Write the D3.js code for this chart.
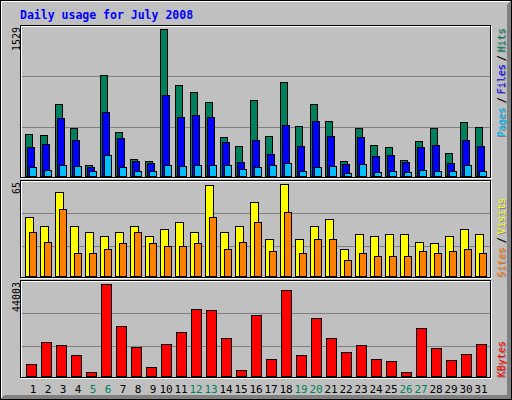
<!DOCTYPE html>
<html>
<head>
<meta charset="utf-8">
<script src="https://cdn.jsdelivr.net/npm/d3@7"></script>
<style>
  body { margin: 0; background: #fff; }
  svg { display: block; }
</style>
</head>
<body>
<div id="wrapper"></div>
<script>
// daily values for July 2008
const days = d3.range(1, 32)
const weekendDays = [5, 6, 12, 13, 19, 20, 26, 27]

const hits  = [440, 429, 751, 502, 111, 1052, 461, 180, 160, 1529, 948, 875, 772, 409, 315, 792,
               419, 979, 523, 751, 575, 160, 502, 326, 305, 170, 367, 502, 243, 564, 512]
const files = [305, 336, 606, 378, 90, 668, 398, 160, 139, 844, 616, 637, 616, 357, 149, 378,
               232, 533, 315, 575, 419, 129, 409, 212, 222, 149, 305, 326, 139, 378, 315]
const pages = [90, 66, 111, 101, 49, 215, 90, 49, 49, 118, 101, 118, 118, 118, 77, 98,
               118, 139, 56, 98, 108, 35, 129, 46, 56, 46, 66, 56, 56, 118, 56]

const visits = [42, 35, 59, 35, 31, 28, 31, 35, 28, 33, 38, 31, 64, 31, 35, 52,
                26, 65, 26, 35, 40, 19, 30, 28, 30, 30, 24, 23, 28, 33, 30]
const sites  = [31, 24, 47, 16, 16, 19, 23, 31, 23, 21, 21, 23, 42, 19, 24, 38,
                18, 45, 16, 26, 26, 11, 16, 14, 14, 14, 18, 16, 18, 19, 16]

const kbytes = [5823, 16324, 14892, 10119, 2005, 44003, 23960, 13937, 4391, 15369, 21097, 32075,
                31597, 18233, 2959, 29211, 8210, 41143, 10119, 27779, 18233, 11551, 14892, 8210,
                7255, 2005, 23006, 13460, 7732, 10596, 15369]

const title = "Daily usage for July 2008"

const colors = {
    grey: "#c0c0c0",
    dkgrey: "#808080",
    hits: "#00805c",
    files: "#0000ff",
    pages: "#00c0ff",
    visits: "#ffff00",
    sites: "#ff8000",
    kbytes: "#ff0000",
}

const width = 512
const height = 400
const mono = "'DejaVu Sans Mono', 'Liberation Mono', monospace"

const svg = d3.select("#wrapper")
    .html("")
    .append("svg")
    .attr("width", width)
    .attr("height", height)
    .attr("shape-rendering", "crispEdges")

// background + bevel
svg.append("rect")
    .attr("width", width).attr("height", height)
    .attr("fill", colors.grey)
for (let i = 1; i < 5; i++) {
    svg.append("line")
        .attr("x1", width - i - 0.5).attr("y1", i)
        .attr("x2", width - i - 0.5).attr("y2", height - i)
        .attr("stroke", colors.dkgrey)
    svg.append("line")
        .attr("x1", i).attr("y1", height - i - 0.5)
        .attr("x2", width - i).attr("y2", height - i - 0.5)
        .attr("stroke", colors.dkgrey)
}
svg.append("path")
    .attr("d", `M1.5,${height - 2}V1.5H${width - 2}`)
    .attr("fill", "none").attr("stroke", "#fff")
svg.append("rect")
    .attr("x", 0.5).attr("y", 0.5)
    .attr("width", width - 1).attr("height", height - 1)
    .attr("fill", "none").attr("stroke", "#000")

svg.append("text")
    .attr("x", 20).attr("y", 19)
    .text(title)
    .attr("fill", "#0000ff")
    .attr("font-family", mono)
    .attr("font-weight", "bold")
    .attr("font-size", "11.5px")

// panels
const panels = [
    { top: 25, bottom: 177, step: 51 },
    { top: 180, bottom: 277, step: 33 },
    { top: 280, bottom: 377, step: 33 },
]
panels.forEach(p => {
    svg.append("rect")
        .attr("x", 21.5).attr("y", p.top + 1.5)
        .attr("width", 470).attr("height", p.bottom - p.top)
        .attr("fill", "none").attr("stroke", "#fff")
    svg.append("rect")
        .attr("x", 20.5).attr("y", p.top + 0.5)
        .attr("width", 470).attr("height", p.bottom - p.top)
        .attr("fill", "none").attr("stroke", "#000")
    for (let k = 1; k < 3; k++) {
        svg.append("line")
            .attr("x1", 22).attr("x2", 490)
            .attr("y1", p.top + k * p.step + 0.5).attr("y2", p.top + k * p.step + 0.5)
            .attr("stroke", colors.dkgrey)
    }
})

// scales
const xScaler = d3.scaleLinear()
    .domain([1, 31])
    .range([25, 475])

const yTop = d3.scaleLinear().domain([0, d3.max(hits)]).range([176, 29])
const yMid = d3.scaleLinear().domain([0, d3.max(visits)]).range([276, 184])
const yBot = d3.scaleLinear().domain([0, d3.max(kbytes)]).range([376, 284])

function drawBars(values, yScale, offset, cols, color) {
    const base = yScale(0)
    svg.append("g")
        .selectAll("rect")
        .data(values)
        .enter()
        .append("rect")
        .attr("x", (d, i) => xScaler(days[i]) + offset + 0.5)
        .attr("y", d => Math.round(yScale(d)) + 0.5)
        .attr("width", cols - 1)
        .attr("height", d => base - Math.round(yScale(d)))
        .attr("fill", color)
        .attr("stroke", "#000")
}

drawBars(hits, yTop, 0, 8, colors.hits)
drawBars(files, yTop, 2, 8, colors.files)
drawBars(pages, yTop, 4, 8, colors.pages)
drawBars(visits, yMid, 0, 9, colors.visits)
drawBars(sites, yMid, 4, 8, colors.sites)
drawBars(kbytes, yBot, 1, 11, colors.kbytes)

// max labels on the left
const maxLabels = [
    { text: String(d3.max(hits)), top: 25 },
    { text: String(d3.max(visits)), top: 180 },
    { text: String(d3.max(kbytes)), top: 280 },
]
maxLabels.forEach(m => {
    svg.append("text")
        .attr("transform", `translate(19.5,${m.top + 2}) rotate(-90)`)
        .attr("text-anchor", "end")
        .text(m.text)
        .attr("fill", "#000")
        .attr("font-family", mono)
        .attr("font-size", "10px")
})

// legends on the right, drawn upward with a light shadow
const legends = [
    { text: "Hits", top: 28, color: colors.hits },
    { text: "/", top: 55, color: "#000" },
    { text: "Files", top: 64, color: colors.files },
    { text: "/", top: 97, color: "#000" },
    { text: "Pages", top: 107, color: colors.pages },
    { text: "Visits", top: 198, color: colors.visits },
    { text: "/", top: 237, color: "#000" },
    { text: "Sites", top: 247, color: colors.sites },
    { text: "KBytes", top: 341, color: colors.kbytes },
]
legends.forEach(l => {
    svg.append("text")
        .attr("transform", `translate(505.5,${l.top + 1}) rotate(-90)`)
        .attr("text-anchor", "end")
        .text(l.text)
        .attr("fill", colors.dkgrey)
        .attr("font-family", mono)
        .attr("font-size", "10px")
    svg.append("text")
        .attr("transform", `translate(504.5,${l.top}) rotate(-90)`)
        .attr("text-anchor", "end")
        .text(l.text)
        .attr("fill", l.color)
        .attr("font-family", mono)
        .attr("font-size", "10px")
})

// day labels
svg.append("g")
    .selectAll("text")
    .data(days)
    .enter()
    .append("text")
    .attr("x", d => xScaler(d) + (d < 10 ? 8 : 6))
    .attr("y", 393)
    .attr("text-anchor", "middle")
    .text(d => d)
    .attr("fill", d => weekendDays.includes(d) ? colors.hits : "#000")
    .attr("font-family", mono)
    .attr("font-size", "11px")
</script>
</body>
</html>
